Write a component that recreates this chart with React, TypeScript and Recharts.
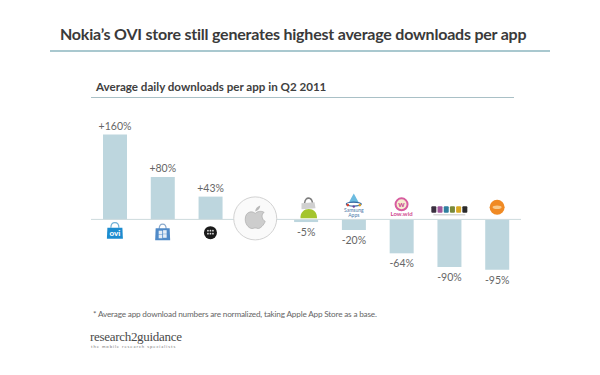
import React from 'react';
import { BarChart, Bar, XAxis, YAxis, ReferenceLine, ReferenceDot, LabelList } from 'recharts';

const stores = ['Ovi', 'Windows', 'BlackBerry', 'Apple', 'Android', 'Samsung', 'LowWid', 'Blocks', 'GetJar'];
const changes = [160, 80, 43, null, -5, -20, -64, -90, -95];
// where each store logo sits, in axis units (the logos are not part of the values)
const logoLevels = [-25, -26, -25, 0, 21, 26, 19, 19, 23];

const rows = stores.map((store, i) => ({ store, change: changes[i] }));

const FONT = 'Lato, "Open Sans", sans-serif';

const Logo = ({ name, cx, cy }: any) => {
  if (cx == null) return null;
  const t = `translate(${cx},${cy})`;
  if (name === 'Ovi') {
    return (
      <g transform={t}>
        <path d="M-4 -5 Q-4 -10 0 -10 Q4 -10 4 -5" fill="none" stroke="#6fb0d6" strokeWidth={1.2} />
        <path d="M-7.5 -5 L7.5 -5 L8 6 L-8 6 Z" fill="#1c8ccf" />
        <text y={3} textAnchor="middle" fontSize={8} fontWeight={900} fill="#fff" fontFamily={FONT}>ovi</text>
      </g>
    );
  }
  if (name === 'Windows') {
    return (
      <g transform={t}>
        <path d="M-3.5 -4 Q-3.5 -9 0 -9 Q3.5 -9 3.5 -4" fill="none" stroke="#8aa9cc" strokeWidth={1.2} />
        <path d="M-7 -5 L7 -5 L7.5 7 L-7.5 7 Z" fill="#4f8ac8" />
        <rect x={-4} y={-2.5} width={3.6} height={3.6} fill="#e4edf7" />
        <rect x={0.4} y={-3} width={3.6} height={3.6} fill="#e4edf7" />
        <rect x={-4} y={1.5} width={3.6} height={3.6} fill="#e4edf7" />
        <rect x={0.4} y={1} width={3.6} height={3.6} fill="#e4edf7" />
      </g>
    );
  }
  if (name === 'BlackBerry') {
    return (
      <g transform={t}>
        <circle r={6.5} fill="#1a1a1a" />
        {[[-2.5, -2], [0, -2], [2.5, -2], [-2.5, 1], [0, 1], [2.5, 1]].map(([x, y], i) => (
          <circle key={i} cx={x} cy={y} r={0.9} fill="#ddd" />
        ))}
      </g>
    );
  }
  if (name === 'Apple') {
    return (
      <g transform={`translate(${cx - 3},${cy - 1})`}>
        <circle r={21.5} fill="#fafafa" stroke="#d2d2d2" strokeWidth={1} />
        <path
          d="M0 -5 C-3 -8 -10 -7 -10 1 C-10 7 -5 11 -2 10 C-1 9.5 1 9.5 2 10 C5 11 9 6 10 3 C6 1 6 -5 9 -6 C6 -8 2 -7 0 -5 Z"
          fill="#cdcdcd"
          stroke="#a5a5a5"
          strokeWidth={0.6}
        />
        <path d="M0 -7 C0 -10 2 -12 5 -13 C5 -10 3 -8 0 -7 Z" fill="#b8b8b8" />
      </g>
    );
  }
  if (name === 'Android') {
    return (
      <g transform={`translate(${cx + 2.5},${cy})`}>
        <path d="M-4 -5 Q-3 -11 1 -10 Q4 -9 4 -4" fill="none" stroke="#7d7d7d" strokeWidth={1.5} />
        <path d="M-7 -5 L6 -6 L7 0 L-7 1 Z" fill="#d0d0d0" />
        <path d="M-8 10 C-9 -2 9 -3 8.5 10 Z" fill="#a4c52d" />
      </g>
    );
  }
  if (name === 'Samsung') {
    return (
      <g transform={t}>
        <path d="M0 -12 L5 -3 L-5 -3 Z" fill="#6bbbe0" />
        <ellipse cy={-1.5} rx={7.5} ry={2} fill="none" stroke="#34679f" strokeWidth={1.2} />
        <circle cx={-6} cy={-0.5} r={1.3} fill="#d8432f" />
        <circle cx={6} cy={-0.5} r={1.3} fill="#e0a020" />
        <circle cx={0} cy={1} r={1.2} fill="#6a3f9a" />
        <text y={6} textAnchor="middle" fontSize={5} fill="#4a78a8" fontFamily={FONT}>Samsung</text>
        <text y={11.5} textAnchor="middle" fontSize={5} fill="#4a78a8" fontFamily={FONT}>Apps</text>
      </g>
    );
  }
  if (name === 'LowWid') {
    return (
      <g transform={t}>
        <circle cy={-5} r={6} fill="#f6ecd0" stroke="#d75c9f" strokeWidth={2} />
        <text y={-2.5} textAnchor="middle" fontSize={8} fontWeight={700} fill="#c9458f" fontFamily={FONT}>w</text>
        <text y={6.5} textAnchor="middle" fontSize={6} fontWeight={700} fill="#d14a8f" fontFamily={FONT}>Low.wid</text>
      </g>
    );
  }
  if (name === 'Blocks') {
    const tints = ['#3a2f3f', '#a0559a', '#2f7f9f', '#7a8a3a', '#d9a820', '#2a2a2a'];
    return (
      <g transform={t}>
        {tints.map((c, i) => (
          <rect key={i} x={-18 + i * 6.2} y={-3} width={5} height={6.5} rx={1} fill={c} />
        ))}
        <line x1={-16} x2={16} y1={5.5} y2={5.5} stroke="#c4c4c4" strokeWidth={1} />
      </g>
    );
  }
  return (
    <g transform={t}>
      <circle r={7.5} fill="#f08a24" />
      <ellipse rx={4.5} ry={1.8} fill="#f9c98a" />
    </g>
  );
};

const ChangeLabel = ({ x, y, width, height, value }: any) => {
  if (value == null) return null;
  const top = Math.min(y, y + height);
  const bottom = Math.max(y, y + height);
  return (
    <text
      x={x + width / 2}
      y={value >= 0 ? top - 5 : bottom + 14}
      textAnchor="middle"
      fontSize={10.5}
      fill="#666"
      fontFamily={FONT}
    >
      {value >= 0 ? `+${value}%` : `${value}%`}
    </text>
  );
};

const textAt = (left: number, top: number, size: number, color: string, weight = 400): React.CSSProperties => ({
  position: 'absolute',
  left,
  top,
  fontSize: size,
  color,
  fontWeight: weight,
  fontFamily: FONT,
  whiteSpace: 'nowrap',
  lineHeight: 1,
});

export default function App() {
  return (
    <div style={{ position: 'absolute', left: 0, top: 0, width: 600, height: 375, background: '#fff', overflow: 'hidden' }}>
      <div style={{ ...textAt(60, 26, 16, '#3a3a3a', 700), letterSpacing: -0.22 }}>
        Nokia’s OVI store still generates highest average downloads per app
      </div>
      <div style={{ position: 'absolute', left: 50, top: 50, width: 500, height: 1.5, background: '#a9c8cf' }} />

      <div style={textAt(96, 81, 11.6, '#404040', 700)}>Average daily downloads per app in Q2 2011</div>
      <div style={{ position: 'absolute', left: 91, top: 96.5, width: 423, height: 1, background: '#a9c0c6' }} />

      <div style={{ position: 'absolute', left: 0, top: 0 }}>
        <BarChart
          width={600}
          height={375}
          data={rows}
          margin={{ top: 124, right: 79, bottom: 92, left: 91 }}
          barCategoryGap={0}
        >
          <XAxis dataKey="store" hide />
          <YAxis hide domain={[-120, 180]} />
          <Bar dataKey="change" fill="#bdd6de" barSize={24} isAnimationActive={false}>
            <LabelList dataKey="change" content={<ChangeLabel />} />
          </Bar>
          <ReferenceLine y={0} stroke="#cddadd" strokeWidth={1} />
          {stores.map((store, i) => (
            <ReferenceDot
              key={store}
              x={store}
              y={logoLevels[i]}
              shape={(props: any) => <Logo name={store} cx={props.cx} cy={props.cy} />}
            />
          ))}
        </BarChart>
      </div>

      <div style={{ ...textAt(93, 310, 8.2, '#666'), letterSpacing: -0.18 }}>
        * Average app download numbers are normalized, taking Apple App Store as a base.
      </div>
      <div style={{ ...textAt(90, 330, 13, '#4a4a4a'), fontFamily: '"Liberation Serif", serif', letterSpacing: -0.3 }}>
        research2guidance
      </div>
      <div style={{ ...textAt(91, 345, 4.2, '#777'), letterSpacing: 0.95 }}>the mobile research specialists</div>
    </div>
  );
}
